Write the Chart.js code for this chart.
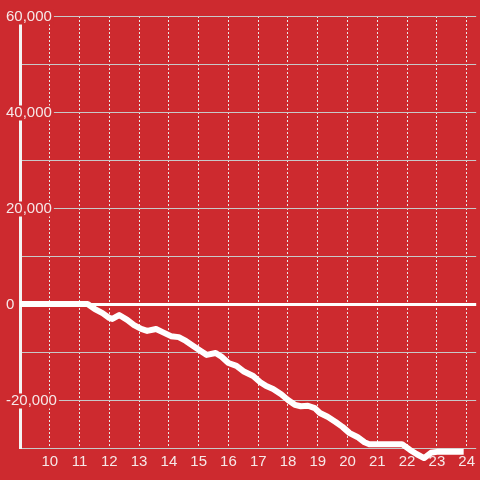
<!DOCTYPE html>
<html>
<head>
<meta charset="utf-8">
<script src="https://cdn.jsdelivr.net/npm/chart.js@4/dist/chart.umd.min.js"></script>
<style>
  html, body { margin: 0; padding: 0; background: #cd2a2f; }
  #wrap { width: 480px; height: 480px; }
</style>
</head>
<body>
<div id="wrap"><canvas id="myChart"></canvas></div>
<script>
// values
const xValues = [9.0, 11.27, 11.5, 11.77, 12.0, 12.1, 12.33, 12.6, 12.83, 13.07, 13.27, 13.57, 13.77,
    14.07, 14.33, 14.57, 14.83, 15.07, 15.27, 15.57, 15.77, 16.0, 16.27, 16.5, 16.83, 17.07, 17.27,
    17.5, 17.77, 18.0, 18.23, 18.43, 18.67, 18.9, 19.07, 19.33, 19.6, 19.83, 20.07, 20.33, 20.57,
    20.73, 21.83, 22.1, 22.33, 22.57, 22.8, 23.0, 23.9];
const yValues = [0, 0, -1000, -1900, -2900, -3100, -2300, -3300, -4400, -5200, -5600, -5200, -5800,
    -6700, -6900, -7700, -8800, -9800, -10600, -10200, -11000, -12300, -12900, -14000, -15000, -16300, -17100,
    -17700, -18800, -20000, -21000, -21300, -21200, -21700, -22700, -23500, -24600, -25600, -26900, -27700, -28800,
    -29200, -29200, -30400, -31300, -32100, -31000, -30800, -30800];
const xTicks = [10, 11, 12, 13, 14, 15, 16, 17, 18, 19, 20, 21, 22, 23, 24];
const yLabelled = [60000, 40000, 20000, 0, -20000];

const points = xValues.map((x, i) => ({ x: x, y: yValues[i] }));

const ctx = document.getElementById('myChart').getContext('2d');
new Chart(ctx, {
    type: 'line',
    data: {
        datasets: [{
            data: points,
            borderColor: '#ffffff',
            borderWidth: 6,
            borderJoinStyle: 'round',
            pointRadius: 0,
            tension: 0,
            fill: false,
            clip: false
        }]
    },
    options: {
        responsive: true,
        maintainAspectRatio: false,
        animation: false,
        layout: { padding: { top: 16, left: 6, right: 0, bottom: 0 } },
        plugins: {
            legend: { display: false },
            tooltip: { enabled: false }
        },
        scales: {
            x: {
                type: 'linear',
                min: 9,
                max: 24.32,
                afterBuildTicks: scale => {
                    scale.ticks = xTicks.map(v => ({ value: v }));
                },
                afterFit: scale => { scale.height = 32; },
                grid: {
                    color: '#e8e8e8',
                    lineWidth: 1,
                    drawTicks: false
                },
                // in v4 border.dash is what dashes the grid lines
                border: { display: false, dash: [2, 2] },
                ticks: {
                    color: '#f6e8e8',
                    padding: 5,
                    font: { family: '"Liberation Sans", Arial, sans-serif', size: 15 },
                    callback: value => String(value)
                }
            },
            y: {
                min: -30000,
                max: 60000,
                afterFit: scale => { scale.width = 14; },
                grid: {
                    drawTicks: false,
                    color: c => c.tick && c.tick.value === 0 ? '#ffffff' : '#c8c8c8',
                    lineWidth: c => c.tick && c.tick.value === 0 ? 3 : 1
                },
                border: { color: '#f4f4f4', width: 3 },
                ticks: {
                    stepSize: 10000,
                    mirror: true,
                    crossAlign: 'near',
                    padding: -14,
                    labelOffset: 1,
                    color: '#f6e8e8',
                    font: { family: '"Liberation Sans", Arial, sans-serif', size: 15, lineHeight: 1 },
                    showLabelBackdrop: c => yLabelled.includes(c.tick.value),
                    backdropColor: '#cd2a2f',
                    backdropPadding: { left: 0, right: 2, top: 0, bottom: 0 },
                    callback: value => yLabelled.includes(value) ? value.toLocaleString('en-US') : ''
                }
            }
        }
    }
});
</script>
</body>
</html>
